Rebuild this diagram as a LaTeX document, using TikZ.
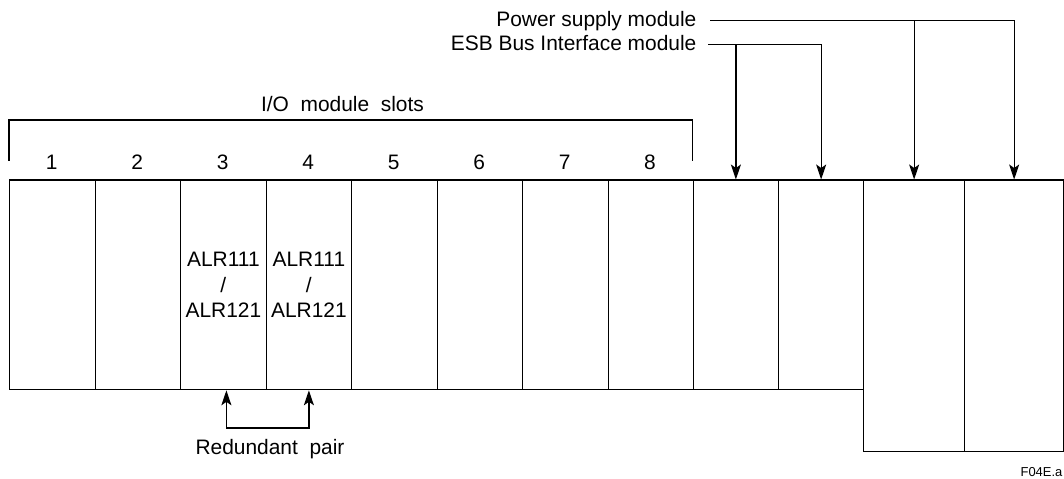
\documentclass[tikz,border=0pt]{standalone}
\usepackage{fontspec}
\setmainfont{Liberation Sans}
\usetikzlibrary{arrows.meta}
\begin{document}
\begin{tikzpicture}[x=1bp,y=-1bp,line width=1.3bp,
  every node/.style={inner sep=0pt,font=\fontsize{21}{25.2}\selectfont},
  modbox/.style={draw,anchor=north west,minimum height=209.5bp,align=center},
  tallbox/.style={draw,anchor=north west,minimum height=271.5bp},
  tip/.style={-{Stealth[length=15bp,width=10bp,inset=3.5bp]}},
  bothtips/.style={{Stealth[length=15bp,width=10bp,inset=3.5bp]}-{Stealth[length=15bp,width=10bp,inset=3.5bp]}}
]
\useasboundingbox (0,0) rectangle (1064,479);

% I/O module slots
\node[modbox,minimum width=85.5bp] (s1) at (9,179.5) {};
\node[modbox,minimum width=85.5bp] (s2) at (94.5,179.5) {};
\node[modbox,minimum width=85.5bp] (s3) at (180,179.5) {ALR111\\/\\ALR121};
\node[modbox,minimum width=85.5bp] (s4) at (265.5,179.5) {ALR111\\/\\ALR121};
\node[modbox,minimum width=85.5bp] (s5) at (351,179.5) {};
\node[modbox,minimum width=85.5bp] (s6) at (436.5,179.5) {};
\node[modbox,minimum width=85.5bp] (s7) at (522,179.5) {};
\node[modbox,minimum width=85bp] (s8) at (607.5,179.5) {};

% ESB bus interface modules
\node[modbox,minimum width=85.5bp] (b1) at (692.5,179.5) {};
\node[modbox,minimum width=85bp] (b2) at (778,179.5) {};

% power supply modules
\node[tallbox,minimum width=101bp] (p1) at (863,179.5) {};
\node[tallbox,minimum width=99bp] (p2) at (964,179.5) {};

% slot numbers
\node[anchor=base] (n1) at (51.75,169.5) {1};
\node[anchor=base] (n2) at (137.25,169.5) {2};
\node[anchor=base] (n3) at (222.75,169.5) {3};
\node[anchor=base] (n4) at (308.25,169.5) {4};
\node[anchor=base] (n5) at (393.75,169.5) {5};
\node[anchor=base] (n6) at (479.25,169.5) {6};
\node[anchor=base] (n7) at (564.75,169.5) {7};
\node[anchor=base] (n8) at (650,169.5) {8};

% bracket over the I/O slots
\draw (9,161) -- (9,120) -- (692.5,120) -- (692.5,161);
\node[anchor=base] (iolabel) at (342.5,111.7) {I/O\ \ module\ \ slots};

% power supply callout
\node[anchor=base east] (pslabel) at (697,26.5) {Power supply module};
\coordinate (psline) at (710,20.7);
\draw[tip] (psline) -| (p2.north);
\draw[tip] (p1.north |- psline) -- (p1.north);

% ESB bus interface callout
\node[anchor=base east] (esblabel) at (697,50.7) {ESB Bus Interface module};
\coordinate (esbline) at (708,44.3);
\draw[tip] (esbline) -| (b2.north);
\draw[tip] (b1.north |- esbline) -- (b1.north);

% redundant pair
\coordinate (rpmid) at (267,428);
\draw[bothtips] ([xshift=3bp]s3.south) |- (rpmid) -| (s4.south);
\node[anchor=base] (rplabel) at (270,454) {Redundant\ \ pair};

% figure code
\node[anchor=base east,font=\fontsize{13}{15}\selectfont] (figcode) at (1063,476) {F04E.a};
\end{tikzpicture}
\end{document}
